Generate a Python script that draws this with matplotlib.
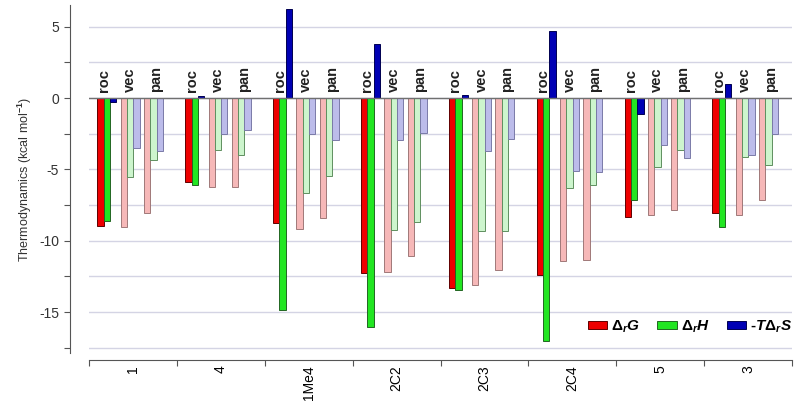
import matplotlib.pyplot as plt
import numpy as np

plt.rcParams['font.family'] = ['Liberation Sans', 'DejaVu Sans']
plt.rcParams['mathtext.fontset'] = 'custom'
plt.rcParams['mathtext.it'] = 'Liberation Sans:italic:bold'
plt.rcParams['mathtext.rm'] = 'Liberation Sans:bold'

groups = ['1', '4', '1Me4', '2C2', '2C3', '2C4', '5', '3']
methods = ['roc', 'vec', 'pan']

# values per group: [roc, vec, pan]
dG = [[-8.95, -9.07, -8.04],
      [-5.91, -6.21, -6.26],
      [-8.74, -9.16, -8.39],
      [-12.29, -12.17, -11.07],
      [-13.32, -13.08, -12.08],
      [-12.38, -11.43, -11.33],
      [-8.34, -8.18, -7.85],
      [-8.06, -8.18, -7.17]]
dH = [[-8.62, -5.56, -4.35],
      [-6.07, -3.67, -4.02],
      [-14.86, -6.66, -5.44],
      [-16.07, -9.25, -8.71],
      [-13.48, -9.35, -9.30],
      [-17.06, -6.29, -6.10],
      [-7.17, -4.86, -3.64],
      [-9.02, -4.11, -4.70]]
TdS = [[-0.28, -3.48, -3.69],
       [0.15, -2.50, -2.27],
       [6.24, -2.52, -2.92],
       [3.78, -2.92, -2.43],
       [0.20, -3.74, -2.85],
       [4.70, -5.14, -5.21],
       [-1.12, -3.27, -4.23],
       [0.98, -4.02, -2.50]]

solid = ['#ee0000', '#22e622', '#0000b4']
solid_edge = ['#600000', '#226622', '#000050']
light = ['#f6b8b8', '#cdf5cd', '#bcbcea']
light_edge = ['#a07878', '#5f8f5f', '#7a7aa8']

fig = plt.figure(figsize=(8, 4.01), dpi=100)
ax = fig.add_axes([89 / 800, 1 - 353 / 401, 703 / 800, 348 / 401])

w = 0.072
start = 0.095
step = 0.265
series = [dG, dH, TdS]

for i in range(len(groups)):
    for j in range(len(methods)):
        for k in range(3):
            x = i + start + j * step + k * w + w / 2
            v = series[k][i][j]
            if j == 0:
                fc, ec = solid[k], solid_edge[k]
            else:
                fc, ec = light[k], light_edge[k]
            ax.bar(x, v, width=w, color=fc, edgecolor=ec, linewidth=0.7, zorder=3)
        lx = i + start + j * step + 1.5 * w + [-0.035, 0.0, 0.03][j]
        ax.text(lx, 0.4, methods[j], rotation=90, ha='center', va='bottom',
                fontsize=10.5, fontweight='bold', color='#222222', zorder=4)

ax.axhline(0, color='#707070', lw=1, zorder=4)

ax.set_xlim(0, 8)
ax.set_ylim(-17.87, 6.52)
ax.set_yticks(np.arange(-17.5, 5.1, 2.5))
ax.set_yticklabels(['' if v % 5 else '%d' % v for v in np.arange(-17.5, 5.1, 2.5)])
ax.yaxis.grid(True, color='#d4d4e4', lw=1, zorder=0)
ax.set_xticks(np.arange(0, 9))
ax.set_xticklabels([])
ax.set_xticks(np.arange(8) + 0.5, minor=True)
ax.set_xticklabels(groups, minor=True, fontsize=9, color='#333333')
ax.tick_params(axis='x', which='minor', length=0, pad=4, labelrotation=90)
ax.tick_params(axis='x', which='major', length=4, color='#555555')
ax.tick_params(axis='y', length=4, color='#555555', labelsize=10, labelcolor='#333333')

for s in ['top', 'right']:
    ax.spines[s].set_visible(False)
ax.spines['left'].set_position(('outward', 14))
ax.spines['bottom'].set_position(('outward', 5))
ax.spines['left'].set_color('#555555')
ax.spines['bottom'].set_color('#555555')

ax.set_ylabel('Thermodynamics (kcal mol$^{-1}$)', fontsize=9, color='#333333')

handles = [plt.Rectangle((0, 0), 1, 1, fc=solid[k], ec=solid_edge[k], lw=0.7) for k in range(3)]
labels = [r'$\mathit{\Delta_r G}$', r'$\mathit{\Delta_r H}$', r'$\mathit{\text{-}T\Delta_r S}$']
ax.legend(handles, labels, loc='center right', bbox_to_anchor=(1.02, 0.075), ncol=3,
          frameon=False, fontsize=11, handlelength=1.3, handleheight=0.45,
          handletextpad=0.25, columnspacing=1.1)

fig.savefig('out.png', dpi=100)
